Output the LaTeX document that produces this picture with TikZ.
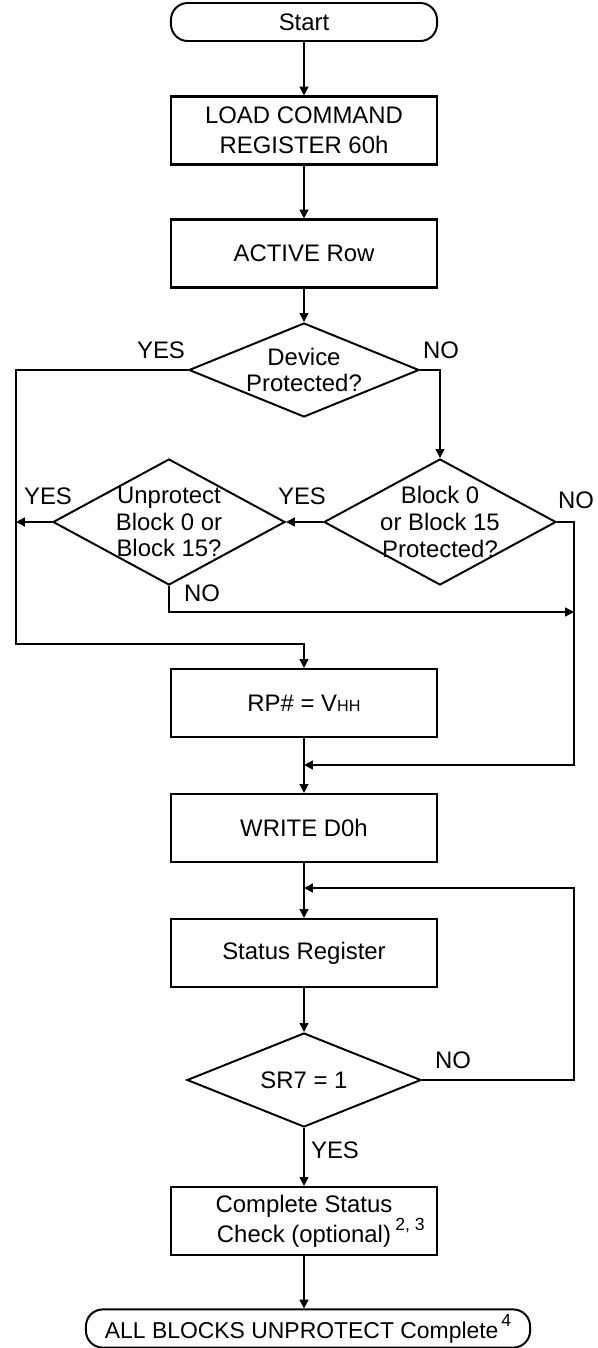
\documentclass[tikz,border=0pt]{standalone}
\usepackage{fontspec}
\setmainfont{Liberation Sans}
\usetikzlibrary{shapes.geometric,arrows.meta}

\newcommand{\supnote}[1]{\raisebox{8.5pt}{\fontsize{12.5}{13}\selectfont #1}}

\tikzset{
	every node/.style={font=\fontsize{17}{21.3}\selectfont},
	proc/.style={draw, line width=1.8pt, minimum width=6.65cm, minimum height=1.69cm, align=center},
	term/.style={draw, line width=1.4pt, rounded corners=0.42cm, minimum height=0.95cm, align=center},
	decision/.style={draw, diamond, line width=1.4pt, inner sep=0pt},
	dtext/.style={align=center, font=\fontsize{17}{19}\selectfont},
	flow/.style={line width=1.1pt, -{Triangle[length=0.22cm, width=0.22cm]}}
}

\begin{document}
\begin{tikzpicture}[x=0.025cm, y=-0.025cm]

	\useasboundingbox (0,0) rectangle (598,1348);

	% main column
	\node[term, minimum width=6.65cm] (start) at (304,22) {Start};
	\node[proc] (load) at (304,130.5) {LOAD COMMAND\\REGISTER 60h};
	\node[proc] (active) at (304,253.5) {ACTIVE Row};
	\node[decision, minimum width=5.75cm, minimum height=2.35cm,
		label={[dtext]center:Device\\Protected?}] (dev) at (304,370) {};
	\node[decision, minimum width=5.8cm, minimum height=3.15cm,
		label={[dtext]center:Block 0\\or Block 15\\Protected?}] (blk) at (440,522) {};
	\node[decision, minimum width=5.8cm, minimum height=3.15cm,
		label={[dtext]center:Unprotect\\Block 0 or\\Block 15?}] (unp) at (169,522) {};
	\node[proc] (rp) at (304,703) {RP\# = V{\fontsize{11.5}{12}\selectfont HH}};
	\node[proc] (write) at (304,828) {WRITE D0h};
	\node[proc] (status) at (304,953) {Status Register};
	\node[decision, minimum width=5.85cm, minimum height=2.35cm,
		label={[dtext]center:SR7 = 1}] (sr) at (304,1080) {};
	\node[proc] (check) at (304,1221) {Complete Status\\Check (optional)\rlap{\hspace{3pt}\supnote{2, 3}}};
	\node[term, minimum width=11.1cm, font=\fontsize{16.3}{20}\selectfont] (done) at (308,1328.5)
		{ALL BLOCKS UNPROTECT Complete\hspace{2pt}\supnote{4}};

	% corner points
	\coordinate (yesl) at (16,644);
	\coordinate (jr) at (574,612);
	\coordinate (mr) at (574,765);
	\coordinate (lr) at (574,888);

	\draw[flow] (start) -- (load);
	\draw[flow] (load) -- (active);
	\draw[flow] (active) -- (dev.north);
	\draw[flow] (dev.east) -| (blk.north);
	\draw[flow] (dev.west) -| (yesl) -| (rp.north);
	\draw[flow] (blk.west) -- (unp.east);
	\draw[flow] (unp.west) -- (unp.west -| yesl);
	\draw[flow] (unp.south) |- (jr);
	\draw[flow] (blk.east) -| (mr) -- (mr -| rp.south);
	\draw[flow] (rp) -- (write);
	\draw[flow] (write) -- (status);
	\draw[flow] (status) -- (sr.north);
	\draw[flow] (sr.east) -| (lr) -- (lr -| status.north);
	\draw[flow] (sr.south) -- (check.north);
	\draw[flow] (check.south) -- (check.south |- done.north);

	% branch labels
	\node (y1) at (161,350) {YES};
	\node (n1) at (441,350) {NO};
	\node (y2) at (48,496) {YES};
	\node (y3) at (302,496) {YES};
	\node (n2) at (576,500) {NO};
	\node (n3) at (202,593) {NO};
	\node (n4) at (453,1060) {NO};
	\node (y4) at (335,1150) {YES};

\end{tikzpicture}
\end{document}
